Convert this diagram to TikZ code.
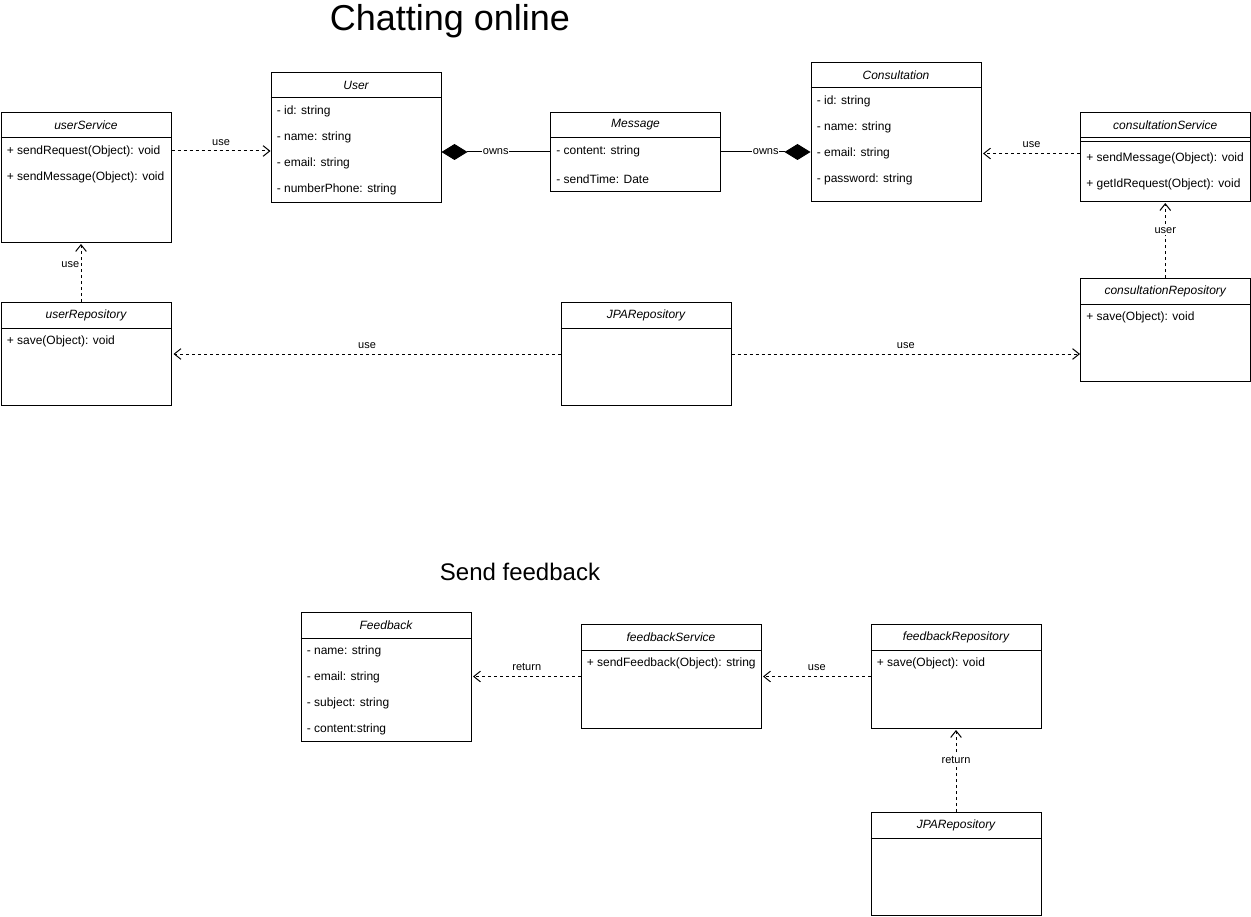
\documentclass[tikz,border=0pt]{standalone}
\usepackage{fontspec}
\setmainfont{Liberation Sans}
\usetikzlibrary{arrows.meta,calc}
\tikzset{
  cls/.style={draw, line width=0.75pt, anchor=north west, inner sep=0pt, fill=white},
  hdr/.style={font=\fontsize{9}{11}\selectfont\itshape, inner sep=0pt},
  sep/.style={line width=0.75pt},
  attr/.style={font=\fontsize{9}{11}\selectfont, anchor=west, inner sep=0pt},
  lbl/.style={font=\fontsize{8.25}{10}\selectfont, inner sep=1pt},
  dep/.style={line width=0.75pt, dash pattern=on 2.25pt off 2.25pt, -{Straight Barb[length=5pt,width=8pt]}},
  comp/.style={line width=0.75pt, -{Diamond[length=19.5pt,width=12pt]}},
  ttl/.style={inner sep=0pt}
}
\newcommand\clsbox[6]{%
  \node[cls, minimum width=#4*0.75pt, minimum height=#5*0.75pt] (#1) at (#2,#3) {};
  \node[hdr] (#1-t) at ($(#1.north)+(0,13)$) {#6};
  \draw[sep] ($(#1.north west)+(0,26)$) -- ($(#1.north east)+(0,26)$);
}
\begin{document}
\begin{tikzpicture}[x=0.75pt,y=-0.75pt]
\useasboundingbox (0,0) rectangle (1251,916);
% titles
\node[ttl, font=\fontsize{27}{30}\selectfont] (title1) at (450,21) {Chatting online};
\node[ttl, font=\fontsize{18}{21}\selectfont] (title2) at (520,572) {Send feedback};

% userService
\clsbox{usvc}{0.5}{112}{170}{130}{userService}
\node[attr] (usvc-a1) at (6.5,151) {+ sendRequest(Object): void};
\node[attr] (usvc-a2) at (6.5,177) {+ sendMessage(Object): void};

% User
\clsbox{user}{270.5}{72}{170}{130}{User}
\node[attr] (user-a1) at (276.5,111) {- id: string};
\node[attr] (user-a2) at (276.5,137) {- name: string};
\node[attr] (user-a3) at (276.5,163) {- email: string};
\node[attr] (user-a4) at (276.5,189) {- numberPhone: string};

% Message
\clsbox{msg}{550}{112}{170}{79}{Message}
\node[attr] (msg-a1) at (556,151) {- content: string};
\node[attr] (msg-a2) at (556,179) {- sendTime: Date};

% Consultation
\clsbox{cons}{810.5}{62}{170}{139}{Consultation}
\node[attr] (cons-a1) at (816.5,101) {- id: string};
\node[attr] (cons-a2) at (816.5,127) {- name: string};
\node[attr] (cons-a3) at (816.5,153) {- email: string};
\node[attr] (cons-a4) at (816.5,179) {- password: string};

% consultationService
\clsbox{csvc}{1080}{112}{169.5}{89}{consultationService}
\draw[sep] ($(csvc.north west)+(0,29.5)$) -- ($(csvc.north east)+(0,29.5)$);
\node[attr] (csvc-a1) at (1086,158) {+ sendMessage(Object): void};
\node[attr] (csvc-a2) at (1086,184) {+ getIdRequest(Object): void};

% consultationRepository
\clsbox{crepo}{1080}{278}{169.5}{103}{consultationRepository}
\node[attr] (crepo-a1) at (1086,317) {+ save(Object): void};

% userRepository
\clsbox{urepo}{0.5}{302}{170}{103}{userRepository}
\node[attr] (urepo-a1) at (6.5,341) {+ save(Object): void};

% JPARepository (top)
\clsbox{jpa}{560.5}{302}{170}{103}{JPARepository}

% Feedback
\clsbox{fb}{300.5}{612}{170}{129}{Feedback}
\node[attr] (fb-a1) at (306.5,651) {- name: string};
\node[attr] (fb-a2) at (306.5,677) {- email: string};
\node[attr] (fb-a3) at (306.5,703) {- subject: string};
\node[attr] (fb-a4) at (306.5,729) {- content:string};

% feedbackService
\clsbox{fsvc}{580.5}{624}{180}{104}{feedbackService}
\node[attr] (fsvc-a1) at (586.5,663) {+ sendFeedback(Object): string};

% feedbackRepository
\clsbox{frepo}{870.5}{624}{170}{104}{feedbackRepository}
\node[attr] (frepo-a1) at (876.5,663) {+ save(Object): void};

% JPARepository (bottom)
\clsbox{jpab}{870.5}{812}{170}{103}{JPARepository}

% connectors
\coordinate (usvcR) at ($(usvc.north east)+(0,39)$);
\draw[dep] (usvcR) -- (user.west |- usvcR) node[lbl, midway, above=3pt] (l1) {use};

\draw[comp] (msg.west) -- (user.east |- msg.west) node[lbl, midway, fill=white, inner sep=0.5pt] (l2) {owns};
\draw[comp] (msg.east) -- (cons.west |- msg.east) node[lbl, midway, fill=white, inner sep=0.5pt] (l3) {owns};

\coordinate (csvcL) at ($(csvc.north west)+(0,41.5)$);
\draw[dep] (csvcL) -- ($(cons.east |- csvcL)+(1.5,0)$) node[lbl, midway, above=3pt] (l4) {use};

\draw[dep] (crepo.north) -- ($(csvc.south)+(0,1)$) node[lbl, pos=0.63, fill=white] (l5) {user};

\coordinate (urepoT) at ($(urepo.north)+(-5,0)$);
\draw[dep] (urepoT) -- ($(usvc.south -| urepoT)+(0,1)$) node[lbl, pos=0.65, left=0pt] (l6) {use};

\draw[dep] (jpa.west) -- ($(urepo.east |- jpa.west)+(2,0)$) node[lbl, midway, above=3pt] (l7) {use};
\draw[dep] (jpa.east) -- (crepo.west |- jpa.east) node[lbl, midway, above=3pt] (l8) {use};

\draw[dep] (fsvc.west) -- ($(fb.east |- fsvc.west)+(1.5,0)$) node[lbl, midway, above=3pt] (l9) {return};
\draw[dep] (frepo.west) -- ($(fsvc.east)+(1.5,0)$) node[lbl, midway, above=3pt] (l10) {use};
\draw[dep] (jpab.north) -- ($(frepo.south)+(0,1)$) node[lbl, pos=0.63, fill=white] (l11) {return};
\end{tikzpicture}
\end{document}
